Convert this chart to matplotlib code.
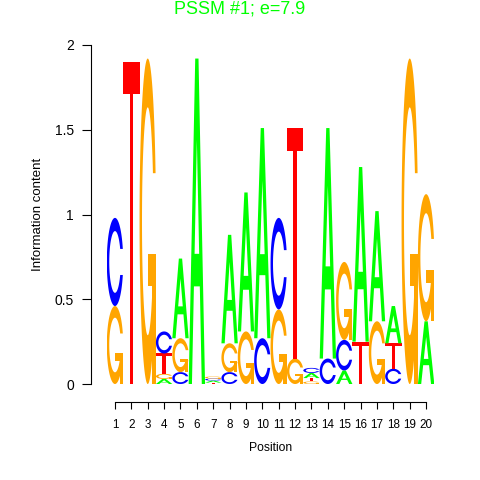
import matplotlib
matplotlib.use("Agg")
import numpy as np
import matplotlib.pyplot as plt
from matplotlib.patches import Polygon

# information content of each base at positions 1..20
positions = list(range(1, 21))
heights_A = [0, 0, 0, 0.03, 0.47, 1.92, 0.012, 0.64, 0.82, 1.24,
             0, 0, 0.03, 1.36, 0.08, 1.03, 0.65, 0.22, 0, 0.37]
heights_C = [0.52, 0, 0, 0.13, 0.07, 0, 0.012, 0.07, 0, 0.27,
             0.54, 0, 0.03, 0.15, 0.18, 0, 0, 0.09, 0, 0]
heights_G = [0.46, 0, 1.92, 0.03, 0.20, 0, 0.012, 0.17, 0.31, 0,
             0.44, 0.15, 0.015, 0, 0.46, 0, 0.37, 0, 1.92, 0.75]
heights_T = [0, 1.90, 0, 0.12, 0, 0, 0.008, 0, 0, 0,
             0, 1.36, 0.02, 0, 0, 0.25, 0, 0.15, 0, 0]
y_ticks = [0, 0.5, 1, 1.5, 2]
y_tick_labels = ["0", "0.5", "1", "1.5", "2"]
title = "PSSM #1; e=7.9"

colors = {"A": "#00ff00", "C": "#0000ff", "G": "#ffa500", "T": "#ff0000"}
plt.rcParams["font.family"] = ["Liberation Sans", "DejaVu Sans"]


# ring used by C and G, in a unit box (opening on the right side)
def ring_shape():
    a1 = np.linspace(0.3 + np.pi / 2, np.pi, 100)
    a2 = np.linspace(np.pi, 1.5 * np.pi, 100)
    xl1, yl1 = 0.5 + 0.5 * np.sin(a1), 0.5 + 0.5 * np.cos(a1)
    xl2, yl2 = 0.5 + 0.5 * np.sin(a2), 0.5 + 0.5 * np.cos(a2)
    xl = np.concatenate([xl1, xl2])
    yl = np.concatenate([yl1, yl2])
    x = np.concatenate([xl, xl[::-1]])
    y = np.concatenate([yl, 1 - yl[::-1]])
    xi1, yi1 = 0.5 + 0.35 * np.sin(a1), 0.5 + 0.35 * np.cos(a1)
    keep = yi1 <= yl1.max()
    xi1, yi1 = xi1[keep], yi1[keep].copy()
    yi1[0] = yl1.max()
    xi2, yi2 = 0.5 + 0.35 * np.sin(a2), 0.5 + 0.35 * np.cos(a2)
    xi = np.concatenate([xi1, xi2])
    yi = np.concatenate([yi1, yi2])
    x1 = np.concatenate([xi, xi[::-1]])
    y1 = np.concatenate([yi, 1 - yi[::-1]])
    x = np.concatenate([x, x1[::-1]])
    y = np.concatenate([y, y1[::-1]])
    return np.column_stack([x, y]), xl1.max()


def letter_polys(ch):
    if ch == "A":
        x = np.array([0, 4, 6, 10, 8, 6.8, 3.2, 2, 0]) * 0.1
        y = np.array([0, 10, 10, 0, 0, 3, 3, 0, 0]) * 0.1
        hx = np.array([3.6, 5, 6.4, 3.6]) * 0.1
        hy = np.array([4, 7.5, 4, 4]) * 0.1
        return [(np.column_stack([x, y]), True),
                (np.column_stack([hx, hy]), False)]
    if ch == "T":
        x = np.array([0, 10, 10, 6, 6, 4, 4, 0]) * 0.1
        y = np.array([10, 10, 9, 9, 0, 0, 9, 9]) * 0.1
        return [(np.column_stack([x, y]), True)]
    ring, r1 = ring_shape()
    if ch == "C":
        return [(ring, True)]
    h1 = 0.4
    xa = [r1, 0.5, 0.5, r1 - 0.2, r1 - 0.2, r1, r1]
    ya = [h1, h1, h1 - 0.1, h1 - 0.1, 0, 0, h1]
    return [(ring, True), (np.column_stack([xa, ya]), True)]


def draw_letter(ax, ch, x0, y0, w, h):
    for xy, filled in letter_polys(ch):
        pts = np.column_stack([x0 + w * xy[:, 0], y0 + h * xy[:, 1]])
        ax.add_patch(Polygon(pts, closed=True, linewidth=0,
                             facecolor=colors[ch] if filled else "white"))


fig = plt.figure(figsize=(4.8, 4.8), dpi=100)
ax = fig.add_axes([0.2225, 0.2, 0.6823, 0.70625])

for i, pos in enumerate(positions):
    col = [("A", heights_A[i]), ("C", heights_C[i]),
           ("G", heights_G[i]), ("T", heights_T[i])]
    col = sorted([c for c in col if c[1] > 0], key=lambda c: c[1])
    base = 0
    for ch, h in col:
        draw_letter(ax, ch, pos - 0.5, base, 1.0, h)
        base += h

ax.set_xlim(0.5, 20.5)
ax.set_ylim(0, 2)
for s in ["top", "right"]:
    ax.spines[s].set_visible(False)
ax.spines["left"].set_bounds(0, 2)
ax.spines["left"].set_position(("outward", 11.6))
ax.spines["bottom"].set_bounds(1, 20)
ax.spines["bottom"].set_position(("outward", 13))
ax.set_xticks(positions)
ax.set_xticklabels([str(p) for p in positions], fontsize=8.4)
ax.set_yticks(y_ticks)
ax.set_yticklabels(y_tick_labels, fontsize=10)
ax.tick_params(axis="x", direction="out", length=4.8, pad=7.5, width=0.8)
ax.tick_params(axis="y", direction="out", length=6.5, pad=5.5, width=0.8)
ax.set_xlabel("Position", fontsize=8.7, labelpad=8)
ax.set_ylabel("Information content", fontsize=9.5, labelpad=8)

fig.text(0.4990, 1 - 8.5 / 480, title, color="#00ff00", fontsize=13,
         ha="center", va="center")

fig.savefig("out.png", dpi=100)
